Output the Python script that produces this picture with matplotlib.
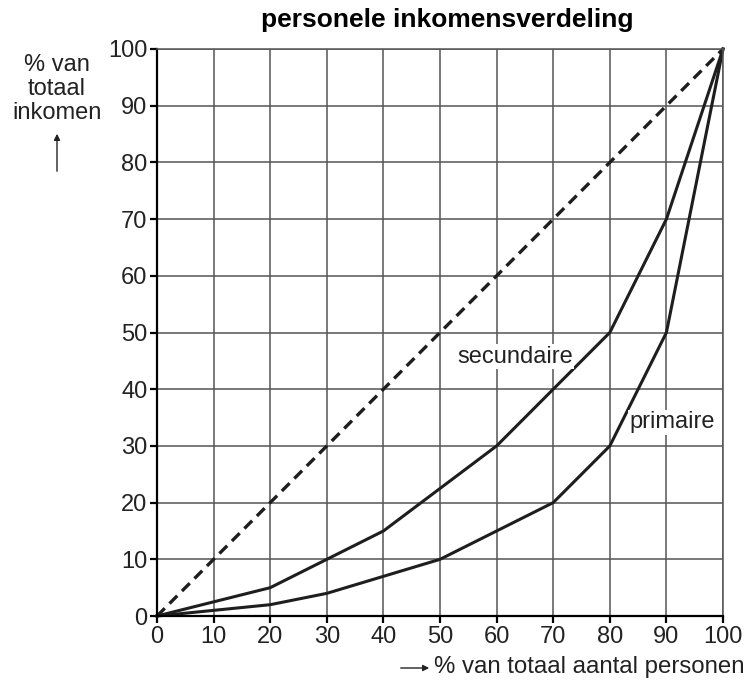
import matplotlib.pyplot as plt

plt.rcParams['font.family'] = ['Liberation Sans', 'DejaVu Sans']

# % van totaal aantal personen
personen = [0, 10, 20, 30, 40, 50, 60, 70, 80, 90, 100]
# % van totaal inkomen
secundaire = [0, 2.5, 5, 10, 15, 22.5, 30, 40, 50, 70, 100]
primaire = [0, 1, 2, 4, 7, 10, 15, 20, 30, 50, 100]
gelijk = [0, 100]

fig = plt.figure(figsize=(7.47, 6.86), dpi=100)
ax = fig.add_axes([0.2102, 0.102, 0.7577, 0.8266])

ax.set_xlim(0, 100)
ax.set_ylim(0, 100)
ax.set_xticks(range(0, 101, 10))
ax.set_yticks(range(0, 101, 10))
ax.grid(True, color='#555555', linewidth=1.1)
ax.set_axisbelow(True)

for s in ['top', 'right']:
    ax.spines[s].set_color('#555555')
    ax.spines[s].set_linewidth(1.1)
for s in ['left', 'bottom']:
    ax.spines[s].set_linewidth(1.6)

ax.tick_params(direction='out', length=5, width=1.6, labelsize=17, pad=2,
               labelcolor='#222222')

# gelijke verdeling (stippellijn)
ax.plot(gelijk, gelijk, color='#1e1e1e', linewidth=2.4, linestyle=(0, (3.3, 2.0)),
        clip_on=False)
ax.plot(personen, secundaire, color='#1e1e1e', linewidth=2.2, clip_on=False)
ax.plot(personen, primaire, color='#1e1e1e', linewidth=2.2, clip_on=False)

ax.text(53.0, 45.7, 'secundaire', fontsize=17, va='center', ha='left', color='#222222',
        bbox=dict(facecolor='white', edgecolor='none', pad=1))
ax.text(83.4, 34.2, 'primaire', fontsize=17, va='center', ha='left', color='#222222',
        bbox=dict(facecolor='white', edgecolor='none', pad=1))

fig.text(447 / 747, 1 - 20 / 686, 'personele inkomensverdeling', fontsize=19,
         fontweight='bold', ha='center', va='center')

fig.text(57 / 747, 1 - 89 / 686, '% van\ntotaal\ninkomen', fontsize=17,
         ha='center', va='center', linespacing=1.12, color='#222222')
fig.add_artist(plt.Annotation('', xy=(57 / 747, 1 - 131 / 686), xytext=(57 / 747, 1 - 174 / 686),
                              xycoords='figure fraction',
                              arrowprops=dict(arrowstyle='-|>', color='#222222', lw=1,
                                              mutation_scale=9)))

fig.text(745 / 747, 1 - 667 / 686, '% van totaal aantal personen', fontsize=17.3,
         ha='right', va='center', color='#222222')
fig.add_artist(plt.Annotation('', xy=(432 / 747, 1 - 668 / 686), xytext=(398 / 747, 1 - 668 / 686),
                              xycoords='figure fraction',
                              arrowprops=dict(arrowstyle='-|>', color='#222222', lw=1,
                                              mutation_scale=9)))

fig.savefig('out.png', dpi=100)
